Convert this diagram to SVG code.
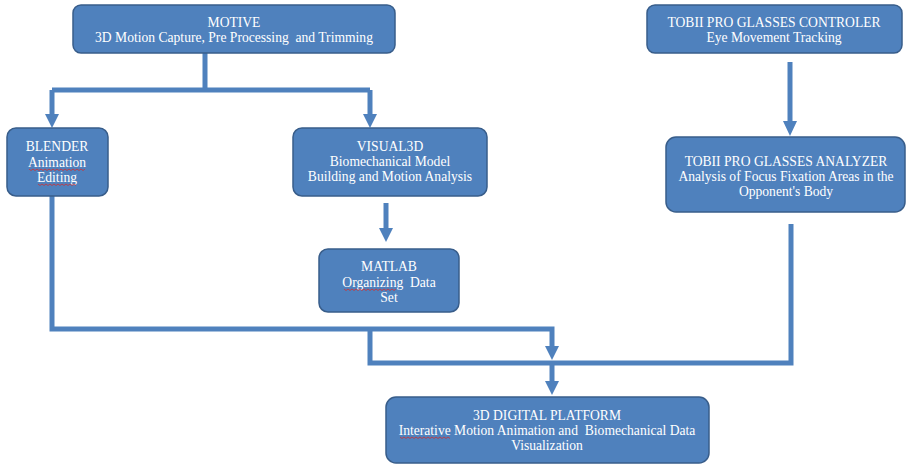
<svg xmlns="http://www.w3.org/2000/svg" width="906" height="465" viewBox="0 0 906 465">
<style>
.box{fill:#4f81bd;stroke:#385d8a;stroke-width:1.5}
.t{font-family:"Liberation Serif","Times New Roman",serif;font-size:13.6px;fill:#ffffff;text-anchor:middle;white-space:pre}
.c{fill:none;stroke:#4f81bd;stroke-width:5;stroke-linejoin:miter}
.ah{fill:#4f81bd}
.sq{fill:none;stroke:#d03030;stroke-width:0.8}
</style>
<rect width="906" height="465" fill="#ffffff"/>
<g id="connectors">
<path class="c" d="M205,53 V90 M52,90 H370 M52,90 V116 M370,90 V116"/>
<polygon class="ah" points="45,114 59,114 52,128"/>
<polygon class="ah" points="363,114 377,114 370,128"/>
<path class="c" d="M790,62 V123"/>
<polygon class="ah" points="783,121 797,121 790,136"/>
<path class="c" d="M386,203 V230"/>
<polygon class="ah" points="379,228 393,228 386,242"/>
<path class="c" d="M52,196 V329 H552 V348"/>
<polygon class="ah" points="545,346 559,346 552,360"/>
<path class="c" d="M370,329 V363 H791 V224"/>
<path class="c" d="M552,363 V383"/>
<polygon class="ah" points="545,381 559,381 552,395"/>
</g>
<g id="motive">
<rect class="box" x="73" y="5" width="322" height="48" rx="8"/>
<text class="t" x="234" y="27">MOTIVE</text>
<text class="t" x="234" y="42" xml:space="preserve">3D Motion Capture, Pre Processing  and Trimming</text>
</g>
<g id="tobii-controler">
<rect class="box" x="647" y="5" width="255" height="48" rx="8"/>
<text class="t" x="774" y="27">TOBII PRO GLASSES CONTROLER</text>
<text class="t" x="774" y="42">Eye Movement Tracking</text>
</g>
<g id="blender">
<rect class="box" x="7" y="128" width="101" height="68" rx="9"/>
<text class="t" x="57" y="151">BLENDER</text>
<text class="t" x="57" y="167">Animation</text>
<text class="t" x="57" y="182">Editing</text>
<path class="sq" d="M29,169 l2,1.5 l2,-1.5 l2,1.5 l2,-1.5 l2,1.5 l2,-1.5 l2,1.5 l2,-1.5 l2,1.5 l2,-1.5 l2,1.5 l2,-1.5 l2,1.5 l2,-1.5 l2,1.5 l2,-1.5 l2,1.5 l2,-1.5 l2,1.5 l2,-1.5 l2,1.5 l2,-1.5 l2,1.5 l2,-1.5 l2,1.5 l2,-1.5 l2,1.5 l2,-1.5"/>
<path class="sq" d="M38,184 l2,1.5 l2,-1.5 l2,1.5 l2,-1.5 l2,1.5 l2,-1.5 l2,1.5 l2,-1.5 l2,1.5 l2,-1.5 l2,1.5 l2,-1.5 l2,1.5 l2,-1.5 l2,1.5 l2,-1.5 l2,1.5 l2,-1.5 l2,1.5"/>
</g>
<g id="visual3d">
<rect class="box" x="293" y="128" width="194" height="68" rx="9"/>
<text class="t" x="390" y="151">VISUAL3D</text>
<text class="t" x="390" y="166">Biomechanical Model</text>
<text class="t" x="390" y="181">Building and Motion Analysis</text>
</g>
<g id="tobii-analyzer">
<rect class="box" x="666" y="137" width="239" height="75" rx="10"/>
<text class="t" x="786" y="166">TOBII PRO GLASSES ANALYZER</text>
<text class="t" x="786" y="181">Analysis of Focus Fixation Areas in the</text>
<text class="t" x="786" y="196">Opponent's Body</text>
</g>
<g id="matlab">
<rect class="box" x="319" y="249" width="140" height="63" rx="9"/>
<text class="t" x="389" y="271">MATLAB</text>
<text class="t" x="389" y="287" xml:space="preserve">Organizing  Data</text>
<text class="t" x="389" y="302">Set</text>
<path class="sq" d="M344,289 l2,1.5 l2,-1.5 l2,1.5 l2,-1.5 l2,1.5 l2,-1.5 l2,1.5 l2,-1.5 l2,1.5 l2,-1.5 l2,1.5 l2,-1.5 l2,1.5 l2,-1.5 l2,1.5 l2,-1.5 l2,1.5 l2,-1.5 l2,1.5 l2,-1.5 l2,1.5 l2,-1.5 l2,1.5 l2,-1.5 l2,1.5 l2,-1.5"/>
</g>
<g id="platform">
<rect class="box" x="386" y="397" width="323" height="66" rx="10"/>
<text class="t" x="547" y="420">3D DIGITAL PLATFORM</text>
<text class="t" x="547" y="435" xml:space="preserve">Interative Motion Animation and  Biomechanical Data</text>
<text class="t" x="547" y="450">Visualization</text>
<path class="sq" d="M400,437 l2,1.5 l2,-1.5 l2,1.5 l2,-1.5 l2,1.5 l2,-1.5 l2,1.5 l2,-1.5 l2,1.5 l2,-1.5 l2,1.5 l2,-1.5 l2,1.5 l2,-1.5 l2,1.5 l2,-1.5 l2,1.5 l2,-1.5 l2,1.5 l2,-1.5 l2,1.5 l2,-1.5 l2,1.5 l2,-1.5 l2,1.5"/>
</g>
</svg>
